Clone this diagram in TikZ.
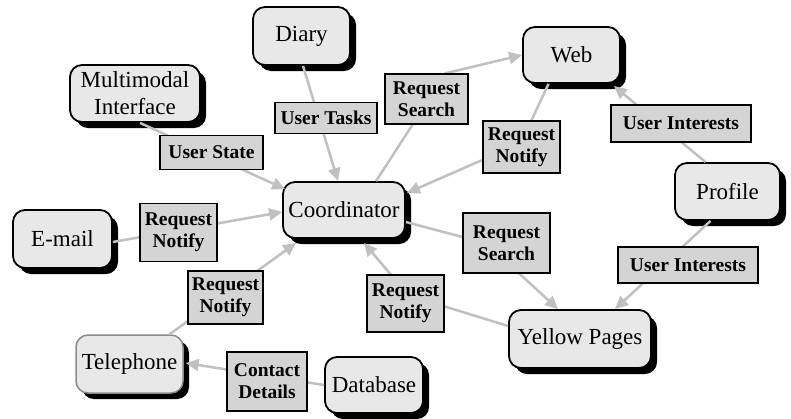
\documentclass[tikz,border=0pt]{standalone}
\usepackage{fontspec}
\newfontfamily\tms{Liberation Serif}
\usetikzlibrary{shadows,arrows.meta,calc}
\definecolor{nfill}{HTML}{E8E8E8}
\definecolor{lfill}{HTML}{D4D4D4}
\definecolor{ecol}{HTML}{C0C0C0}
\definecolor{tborder}{HTML}{8A8A8A}
\newcommand\NodeFnt{\tms\fontsize{23}{27}\selectfont}
\newcommand\LblFnt{\tms\bfseries\fontsize{19.5}{22}\selectfont}
\pgfdeclarelayer{fg}
\pgfsetlayers{main,fg}
\tikzset{
  comp/.style={draw=black, line width=1.8pt, fill=nfill, rounded corners=12pt,
    font=\NodeFnt, align=center, inner sep=0pt,
    drop shadow={shadow xshift=6pt, shadow yshift=-6pt, fill=black, opacity=1}},
  msg/.style={draw=black, line width=1.5pt, fill=lfill, inner sep=0pt,
    font=\LblFnt, align=center},
  flow/.style={draw=ecol, line width=2.5pt},
  flowarr/.style={flow, -{Triangle[length=13pt,width=12pt]}}
}
\begin{document}
\begin{tikzpicture}[x=1pt,y=-1pt]
\useasboundingbox (0,0) rectangle (791,418);
% components
\node[comp, minimum width=97pt, minimum height=58pt] (diary) at (301.5,36) {Diary};
\node[comp, minimum width=130pt, minimum height=57pt] (mmi) at (135,93.5) {Multimodal\\Interface};
\node[comp, minimum width=97pt, minimum height=56pt] (web) at (571.5,55) {Web};
\node[comp, minimum width=105pt, minimum height=57pt] (profile) at (727.5,191.5) {Profile};
\node[comp, minimum width=122pt, minimum height=56pt] (coord) at (344,210) {Coordinator};
\node[comp, minimum width=99pt, minimum height=58pt] (email) at (62.5,239) {E-mail};
\node[comp, draw=tborder, line width=1.5pt, minimum width=107pt, minimum height=58pt] (tel) at (129.5,364) {Telephone};
\node[comp, minimum width=98pt, minimum height=56pt] (db) at (374,385) {Database};
\node[comp, minimum width=142pt, minimum height=58pt] (yp) at (580,339) {Yellow Pages};
% message labels
\begin{pgfonlayer}{fg}
\node[msg, minimum width=102pt, minimum height=31pt] (tasks) at (326,118) {User Tasks};
\node[msg, minimum width=103pt, minimum height=34pt] (state) at (211.5,152.5) {User State};
\node[msg, minimum width=83pt, minimum height=50pt] (rs1) at (426.5,99) {Request\\Search};
\node[msg, minimum width=77pt, minimum height=52pt] (rn1) at (521.5,147) {Request\\Notify};
\node[msg, minimum width=140pt, minimum height=37pt] (ui1) at (681,123.5) {User Interests};
\node[msg, minimum width=77pt, minimum height=58pt] (rn2) at (178.5,232.5) {Request\\Notify};
\node[msg, minimum width=75pt, minimum height=53pt] (rn3) at (225.5,297.5) {Request\\Notify};
\node[msg, minimum width=80pt, minimum height=59pt] (cd) at (267,381.5) {Contact\\Details};
\node[msg, minimum width=77pt, minimum height=57pt] (rn4) at (405.5,303.5) {Request\\Notify};
\node[msg, minimum width=87pt, minimum height=60pt] (rs2) at (506.5,243) {Request\\Search};
\node[msg, minimum width=140pt, minimum height=36pt] (ui2) at (688,265) {User Interests};
\end{pgfonlayer}
% connectors
\draw[flowarr] ($(diary.south)+(1.5,0)$) -- ($(coord.north)+(-6,0)$);
\draw[flowarr] ($(mmi.south)+(5,0)$) -- ($(coord.north west)+(3,8)$);
\draw[flowarr] ($(coord.north)+(32,0)$) -- ($(rs1.south)+(-14,0)$) -- ($(rs1.north)+(19,0)$) -- (web.west);
\draw[flowarr] ($(web.south)+(-23,0)$) -- ($(rn1.north)+(10,0)$) -- ($(rn1.west)+(0,13)$) -- ($(coord.east)+(1,-17)$);
\draw[flowarr] ($(profile.north)+(-22,0)$) -- ($(web.south east)+(-7,2)$);
\draw[flowarr] ($(profile.south)+(-17,0)$) -- ($(yp.north)+(35,0)$);
\draw[flowarr] ($(coord.east)+(0,12)$) -- ($(rs2.west)+(0,-6)$) -- ($(rs2.south)+(13,0)$) -- ($(yp.north)+(-22,0)$);
\draw[flowarr] ($(yp.west)+(0,-13)$) -- ($(rn4.east)+(0,3)$) -- ($(rn4.north)+(-15,0)$) -- ($(coord.south)+(20,4)$);
\draw[flowarr] ($(email.east)+(0,3)$) -- ($(coord.west)+(0,2)$);
\draw[flowarr] ($(tel.north)+(40,0)$) -- ($(coord.south west)+(14,4)$);
\draw[flowarr] (db.west) -- ($(tel.east)+(2,-1)$);
\end{tikzpicture}
\end{document}
